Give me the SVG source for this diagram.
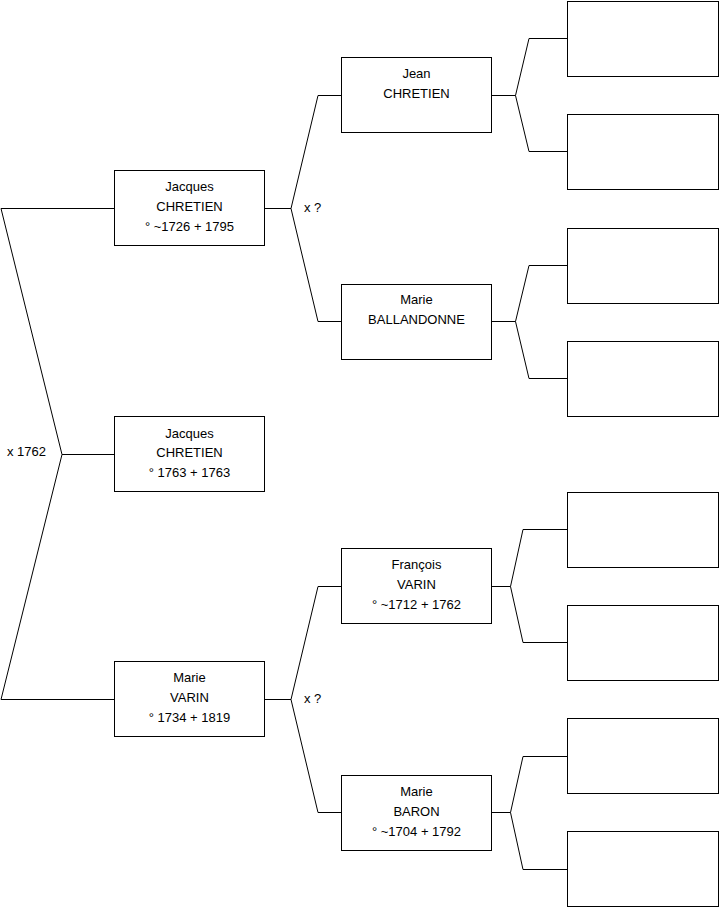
<svg xmlns="http://www.w3.org/2000/svg" width="719" height="908" viewBox="0 0 719 908">
<style>
.box{fill:#fff;stroke:#000;stroke-width:1}
.ln{fill:none;stroke:#000;stroke-width:1}
text{font-family:"Liberation Sans",Arial,sans-serif;font-size:13px;fill:#000}
.c{text-anchor:middle}
</style>
<rect width="719" height="908" fill="#fff"/>
<g id="connectors">
<polyline class="ln" points="114,208.5 1,208.5 62,454.5 1,699.5 114,699.5"/>
<line class="ln" x1="62" y1="454.5" x2="114" y2="454.5"/>
<polyline class="ln" points="341,95.5 318,95.5 291,208.5 318,321.5 341,321.5"/>
<line class="ln" x1="265" y1="208.5" x2="291" y2="208.5"/>
<polyline class="ln" points="341,586.5 318,586.5 291,699.5 318,812.5 341,812.5"/>
<line class="ln" x1="265" y1="699.5" x2="291" y2="699.5"/>
<polyline class="ln" points="567,38.5 529,38.5 515.5,95.5 529,151.5 567,151.5"/>
<line class="ln" x1="491" y1="95.5" x2="515.5" y2="95.5"/>
<polyline class="ln" points="567,265.5 529,265.5 515.5,321.5 529,378.5 567,378.5"/>
<line class="ln" x1="491" y1="321.5" x2="515.5" y2="321.5"/>
<polyline class="ln" points="567,529.5 523,529.5 510.5,586.5 523,642.5 567,642.5"/>
<line class="ln" x1="491" y1="586.5" x2="510.5" y2="586.5"/>
<polyline class="ln" points="567,756.5 523,756.5 510.5,812.5 523,869.5 567,869.5"/>
<line class="ln" x1="491" y1="812.5" x2="510.5" y2="812.5"/>
<text x="7" y="456">x 1762</text>
<text x="304" y="212">x ?</text>
<text x="304" y="703">x ?</text>
</g>
<g id="n-jacques-1726">
<rect class="box" x="114.5" y="170.5" width="150" height="75"/>
<text class="c" x="189.5" y="191">Jacques</text>
<text class="c" x="189.5" y="211">CHRETIEN</text>
<text class="c" x="189.5" y="231">° ~1726 + 1795</text>
</g>
<g id="n-jacques-1763">
<rect class="box" x="114.5" y="416.5" width="150" height="75"/>
<text class="c" x="189.5" y="438">Jacques</text>
<text class="c" x="189.5" y="457">CHRETIEN</text>
<text class="c" x="189.5" y="477">° 1763 + 1763</text>
</g>
<g id="n-marie-varin">
<rect class="box" x="114.5" y="661.5" width="150" height="75"/>
<text class="c" x="189.5" y="682">Marie</text>
<text class="c" x="189.5" y="702">VARIN</text>
<text class="c" x="189.5" y="722">° 1734 + 1819</text>
</g>
<g id="n-jean">
<rect class="box" x="341.5" y="57.5" width="150" height="75"/>
<text class="c" x="416.5" y="78">Jean</text>
<text class="c" x="416.5" y="98">CHRETIEN</text>
</g>
<g id="n-marie-ballandonne">
<rect class="box" x="341.5" y="284.5" width="150" height="75"/>
<text class="c" x="416.5" y="304">Marie</text>
<text class="c" x="416.5" y="324">BALLANDONNE</text>
</g>
<g id="n-francois">
<rect class="box" x="341.5" y="548.5" width="150" height="75"/>
<text class="c" x="416.5" y="569">François</text>
<text class="c" x="416.5" y="589">VARIN</text>
<text class="c" x="416.5" y="609">° ~1712 + 1762</text>
</g>
<g id="n-marie-baron">
<rect class="box" x="341.5" y="775.5" width="150" height="75"/>
<text class="c" x="416.5" y="796">Marie</text>
<text class="c" x="416.5" y="816">BARON</text>
<text class="c" x="416.5" y="836">° ~1704 + 1792</text>
</g>
<g id="n-g3-1"><rect class="box" x="567.5" y="1.5" width="151" height="75"/></g>
<g id="n-g3-2"><rect class="box" x="567.5" y="114.5" width="151" height="75"/></g>
<g id="n-g3-3"><rect class="box" x="567.5" y="228.5" width="151" height="75"/></g>
<g id="n-g3-4"><rect class="box" x="567.5" y="341.5" width="151" height="75"/></g>
<g id="n-g3-5"><rect class="box" x="567.5" y="492.5" width="151" height="75"/></g>
<g id="n-g3-6"><rect class="box" x="567.5" y="605.5" width="151" height="75"/></g>
<g id="n-g3-7"><rect class="box" x="567.5" y="718.5" width="151" height="75"/></g>
<g id="n-g3-8"><rect class="box" x="567.5" y="831.5" width="151" height="75"/></g>
</svg>
